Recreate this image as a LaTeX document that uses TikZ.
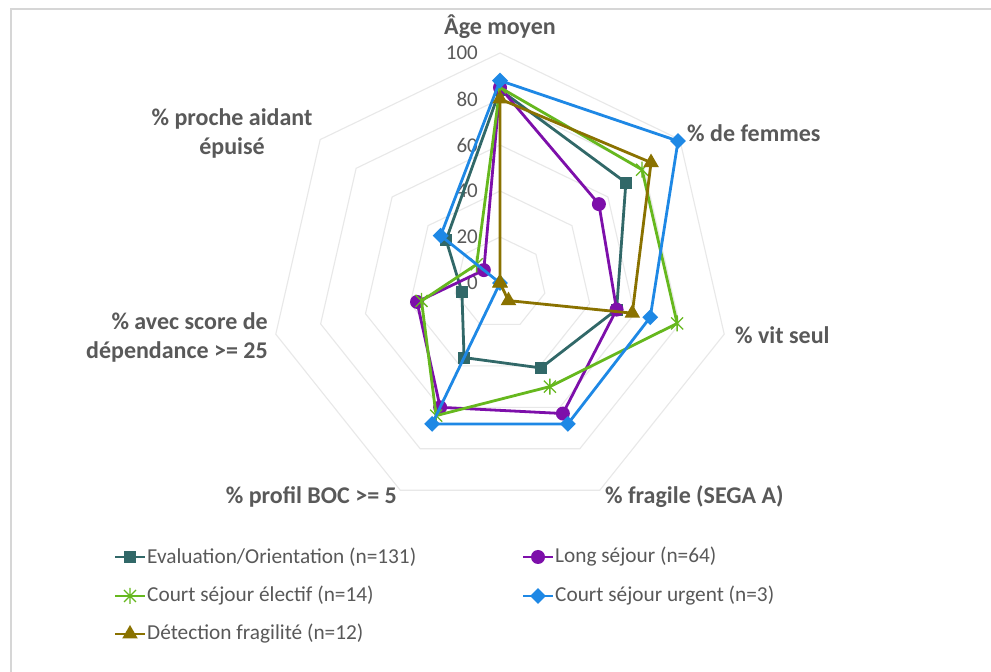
\documentclass[tikz,border=0pt]{standalone}
\usepackage{fontspec}
\setmainfont{Carlito}
\usetikzlibrary{shapes.geometric}
\definecolor{cteal}{RGB}{49,104,104}
\definecolor{cpurple}{RGB}{125,15,170}
\definecolor{cgreen}{RGB}{102,184,30}
\definecolor{cblue}{RGB}{30,136,229}
\definecolor{colive}{RGB}{138,114,0}
\definecolor{ctext}{RGB}{89,89,89}
\definecolor{cgrid}{RGB}{232,232,232}
\definecolor{cframe}{RGB}{214,214,214}
\newcommand{\radarset}[2]{\foreach \v [count=\k from 0] in {#2}{\coordinate (#1\k) at ([shift={(C)}]{90-\k*360/7}:{2.3*\v});}}
\begin{document}
\begin{tikzpicture}[x=1pt,y=1pt,
  gridline/.style={draw=cgrid, line width=1.1pt},
  sline/.style={line width=2.8pt, line join=round},
  axlab/.style={text=ctext, font=\fontsize{24}{29}\selectfont\bfseries, inner sep=0pt},
  vallab/.style={text=ctext, font=\fontsize{21}{25}\selectfont, inner sep=0pt, anchor=east},
  legtext/.style={text=ctext, font=\fontsize{21.3}{25}\selectfont, inner sep=0pt, anchor=west},
  sqm/.style={rectangle, fill=cteal, minimum size=12pt, inner sep=0pt},
  cim/.style={circle, fill=cpurple, minimum size=14pt, inner sep=0pt},
  dim/.style={diamond, fill=cblue, minimum size=16pt, inner sep=0pt},
  trm/.style={regular polygon, regular polygon sides=3, fill=colive, minimum size=18pt, inner sep=0pt},
  starmk/.pic={\draw[cgreen, line width=1.3pt] (-6,-6) -- (6,6) (-6,6) -- (6,-6) (0,-8) -- (0,8);}
]
\useasboundingbox (0,0) rectangle (991,672);
\fill[white] (0,0) rectangle (991,672);
% frame
\coordinate (fa) at (11,0);
\coordinate (fb) at (11,663);
\coordinate (fc) at (991,663);
\draw[cframe, line width=1.5pt] (fa) -- (fb) -- (fc);
\coordinate (C) at (500,389);
% grid
\foreach \g in {20,40,60,80,100}
  \draw[gridline] ([shift={(C)}]90:{2.3*\g}) \foreach \k in {1,...,6}{ -- ([shift={(C)}]{90-\k*360/7}:{2.3*\g}) } -- cycle;
% value labels
\foreach \g in {0,20,40,60,80,100}
  \node[vallab] (val\g) at (478,{389+2.3*\g}) {\g};
% axis labels
\node[axlab] (lage) at (500,645) {Âge moyen};
\node[axlab, anchor=west] (lfem) at (687,539) {\% de femmes};
\node[axlab, anchor=west] (lvit) at (735,337) {\% vit seul};
\node[axlab, anchor=west] (lfra) at (605,175) {\% fragile (SEGA A)};
\node[axlab, anchor=east] (lboc) at (397,175) {\% profil BOC >= 5};
\node[axlab, anchor=east, align=right] (ldep) at (268,335) {\% avec score de\\dépendance >= 25};
\node[axlab, align=center] (lpro) at (232,539) {\% proche aidant\\épuisé};
% data
\radarset{ev}{84,70,52,41,36,17,30}
\radarset{ls}{85,55,52,63,60,37,9}
\radarset{ce}{85,79,79,50,64,35,13}
\radarset{cu}{88,99,67,68,68,0,33}
\radarset{df}{80,84,59,8.5,0,0,0}
\draw[sline, cteal] (ev0) -- (ev1) -- (ev2) -- (ev3) -- (ev4) -- (ev5) -- (ev6) -- cycle;
\foreach \k in {0,...,6} \node[sqm] (mev\k) at (ev\k) {};
\draw[sline, cpurple] (ls0) -- (ls1) -- (ls2) -- (ls3) -- (ls4) -- (ls5) -- (ls6) -- cycle;
\foreach \k in {0,...,6} \node[cim] (mls\k) at (ls\k) {};
\draw[sline, cgreen] (ce0) -- (ce1) -- (ce2) -- (ce3) -- (ce4) -- (ce5) -- (ce6) -- cycle;
\foreach \k in {0,...,6} \pic at (ce\k) {starmk};
\draw[sline, cblue] (cu0) -- (cu1) -- (cu2) -- (cu3) -- (cu4) -- (cu5) -- (cu6) -- cycle;
\foreach \k in {0,...,6} \node[dim] (mcu\k) at (cu\k) {};
\draw[sline, colive] (df0) -- (df1) -- (df2) -- (df3) -- (df4) -- (df5) -- (df6) -- cycle;
\foreach \k in {0,...,6} \node[trm] (mdf\k) at (df\k) {};
% legend
\coordinate (la1) at (115,115); \coordinate (lb1) at (145,115);
\coordinate (la2) at (523,115); \coordinate (lb2) at (553,115);
\coordinate (la3) at (115,76);  \coordinate (lb3) at (145,76);
\coordinate (la4) at (523,76);  \coordinate (lb4) at (553,76);
\coordinate (la5) at (115,38);  \coordinate (lb5) at (145,38);
\draw[sline, cteal] (la1) -- (lb1); \node[sqm] (lm1) at (130,115) {};
\draw[sline, cpurple] (la2) -- (lb2); \node[cim] (lm2) at (538,115) {};
\draw[sline, cgreen] (la3) -- (lb3); \pic at (130,76) {starmk};
\draw[sline, cblue] (la4) -- (lb4); \node[dim] (lm4) at (538,76) {};
\draw[sline, colive] (la5) -- (lb5); \node[trm] (lm5) at (130,38) {};
\node[legtext] (lt1) at (147,115) {Evaluation/Orientation (n=131)};
\node[legtext] (lt2) at (555,115) {Long séjour (n=64)};
\node[legtext] (lt3) at (147,76) {Court séjour électif (n=14)};
\node[legtext] (lt4) at (555,76) {Court séjour urgent (n=3)};
\node[legtext] (lt5) at (147,38) {Détection fragilité (n=12)};
\end{tikzpicture}
\end{document}
